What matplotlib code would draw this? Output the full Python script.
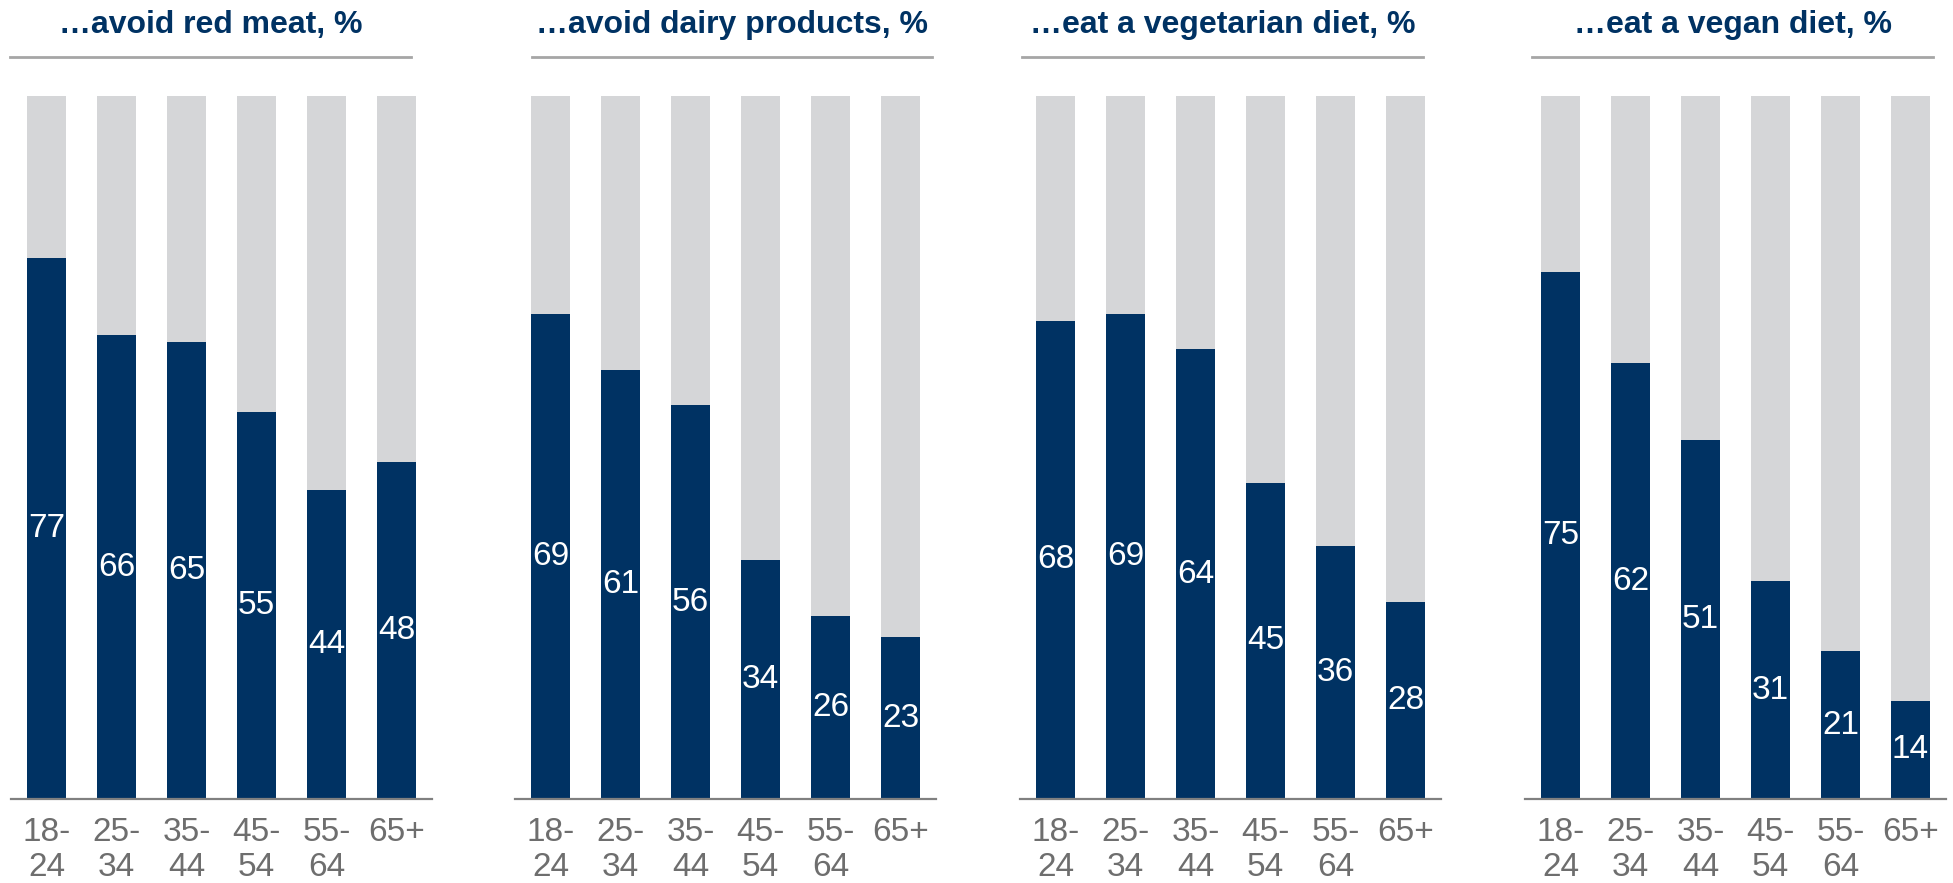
import matplotlib
matplotlib.use('Agg')
import matplotlib.pyplot as plt

plt.rcParams['font.family'] = ['Liberation Sans', 'DejaVu Sans']

# Age groups and share (%) per diet question
age_groups = ["18-\n24", "25-\n34", "35-\n44", "45-\n54", "55-\n64", "65+"]
titles = ["\u2026avoid red meat, %", "\u2026avoid dairy products, %",
          "\u2026eat a vegetarian diet, %", "\u2026eat a vegan diet, %"]
red_meat = [77, 66, 65, 55, 44, 48]
dairy = [69, 61, 56, 34, 26, 23]
vegetarian = [68, 69, 64, 45, 36, 28]
vegan = [75, 62, 51, 31, 21, 14]
total = [100, 100, 100, 100, 100, 100]

series = [red_meat, dairy, vegetarian, vegan]

BLUE = "#003263"
GREY = "#d5d6d8"
TITLE_GREY = "#a6a6a6"
AXIS_GREY = "#808080"
LABEL_GREY = "#6e6e6e"

W, H = 1953, 883
fig = plt.figure(figsize=(W / 100, H / 100), dpi=100)

ax_left = [11, 515, 1020, 1525]       # pixel x of each panel
title_line = [(10, 411), (532, 932), (1022, 1423), (1532, 1933)]
ax_w = 421
ax_bottom, ax_top = 799, 96           # pixel y from top

for i, vals in enumerate(series):
    ax = fig.add_axes([ax_left[i] / W, (H - ax_bottom) / H,
                       ax_w / W, (ax_bottom - ax_top) / H])
    x = range(len(age_groups))
    ax.bar(x, total, width=0.557, color=GREY, linewidth=0)
    ax.bar(x, vals, width=0.557, color=BLUE, linewidth=0)
    for xi, v in zip(x, vals):
        ax.text(xi, v / 2, str(v), ha='center', va='center',
                color='white', fontsize=24)
    ax.set_xlim(-0.507, 5.507)
    ax.set_ylim(0, 100)
    ax.set_xticks(list(x))
    ax.set_xticklabels(age_groups, fontsize=24, color=LABEL_GREY,
                       linespacing=1.17)
    ax.tick_params(axis='x', length=0, pad=13)
    ax.set_yticks([])
    for s in ['top', 'left', 'right']:
        ax.spines[s].set_visible(False)
    ax.spines['bottom'].set_color(AXIS_GREY)
    ax.spines['bottom'].set_linewidth(1.6)

    # panel heading with rule underneath
    x0, x1 = title_line[i]
    fig.text((x0 + x1) / 2 / W, (H - 33) / H, titles[i], ha='center',
             va='baseline', fontsize=23, fontweight='bold', color=BLUE)
    fig.add_artist(plt.Line2D([x0 / W, x1 / W], [(H - 57) / H] * 2,
                              color=TITLE_GREY, linewidth=2))

fig.savefig("out.png", dpi=100)
